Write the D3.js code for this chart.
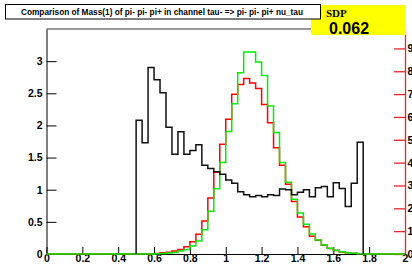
<!DOCTYPE html>
<html lang="en">
  <head>
    <meta charset="utf-8">
    <title>Mass(1) of pi- pi- pi+</title>
    <script src="https://d3js.org/d3.v7.min.js"></script>
    <style type="text/css">
      html, body {
        margin: 0; padding: 0;
        background: #fff;
      }
      svg { display: block; }
      text { font-family: "Liberation Sans", Arial, Helvetica, sans-serif; font-weight: bold; }
    </style>
  </head>
  <body>
    <svg width="412" height="269"></svg>

    <script type="text/javascript">

      // binning: 60 bins from 0 to 2
      var binLo = 0, binHi = 2, nBins = 60;

      // black (ratio, left axis), starts at bin 15 (m = 0.5)
      var blackStart = 15;
      var blackVals = [2.08, 1.73, 2.90, 2.71, 2.51, 1.97, 1.55, 1.90, 1.55, 1.61,
                       1.70, 1.38, 1.33, 1.28, 1.24, 1.15, 1.10, 0.97, 0.92, 0.89,
                       0.91, 0.89, 0.92, 0.91, 1.01, 1.00, 0.92, 0.96, 1.00, 0.89,
                       1.03, 1.05, 0.89, 1.11, 1.02, 0.74, 1.10, 1.74];

      // red and green (right axis), all 60 bins
      var redVals = [0,0,0,0,0,0,0,0,0,0, 0,0,0,0,0,0,0,0,0.02,0.05,
                     0.08, 0.13, 0.20, 0.32, 0.54, 0.86, 1.45, 2.45, 3.58, 4.81,
                     5.90, 6.99, 7.42, 7.68, 7.49, 7.25, 6.55, 5.75, 4.65, 3.88,
                     3.05, 2.30, 1.62, 1.19, 0.78, 0.60, 0.38, 0.24, 0.15, 0.09,
                     0.05, 0.03, 0.01, 0,0,0,0,0,0,0];
      var greenVals = [0,0,0,0,0,0,0,0,0,0, 0,0,0,0,0,0,0,0,0.01,0.02,
                       0.04, 0.07, 0.13, 0.20, 0.35, 0.57, 1.06, 1.87, 2.86, 4.01,
                       5.36, 6.58, 7.93, 8.84, 8.84, 8.40, 7.81, 6.48, 5.32, 4.01,
                       3.14, 2.40, 1.79, 1.30, 0.88, 0.61, 0.39, 0.25, 0.16, 0.10,
                       0.06, 0.03, 0.01, 0,0,0,0,0,0,0];

      // tick labels
      var xTicks = [0, 0.2, 0.4, 0.6, 0.8, 1, 1.2, 1.4, 1.6, 1.8, 2];
      var yLeftTicks = [0, 0.5, 1, 1.5, 2, 2.5, 3];
      var yRightTicks = [0, 1, 2, 3, 4, 5, 6, 7, 8, 9];

      var titleText = "Comparison of Mass(1) of pi- pi- pi+ in channel tau- => pi- pi- pi+ nu_tau";
      var sdpLabel = "SDP";
      var sdpValue = "0.062";

      var x = d3.scaleLinear().domain([binLo, binHi]).range([46.5, 405]);
      var yL = d3.scaleLinear().domain([0, 3.5]).range([254, 29]);
      var yR = d3.scaleLinear().domain([0, 9.85]).range([254, 29]);
      var bw = (binHi - binLo) / nBins;

      var svg = d3.select("svg");

      // frame
      svg.append("line")
         .attr("x1", x(0)).attr("x2", x(2))
         .attr("y1", yL(3.5)).attr("y2", yL(3.5))
         .attr("stroke", "#333").attr("stroke-width", 1);

      // left axis, ticks pointing inwards
      var gL = svg.append("g").attr("transform", "translate(" + x(0) + ",0)");
      gL.call(d3.axisLeft(yL).tickValues(d3.range(0, 3.51, 0.1)).tickSize(-5).tickSizeOuter(0).tickFormat(""));
      gL.call(d3.axisLeft(yL).tickValues(yLeftTicks).tickSize(-10).tickSizeOuter(0).tickPadding(4)
                .tickFormat(function(d){ return d; }));
      gL.selectAll("text").style("font-size", "10.5px").attr("fill", "#000");
      gL.selectAll("line, path").attr("stroke", "#000");

      // bottom axis
      var gB = svg.append("g").attr("transform", "translate(0," + yL(0) + ")");
      gB.call(d3.axisBottom(x).tickValues(d3.range(0, 2.001, 0.05)).tickSize(-3.5).tickSizeOuter(0).tickFormat(""));
      gB.call(d3.axisBottom(x).tickValues(xTicks).tickSize(-7).tickSizeOuter(0).tickPadding(1)
                .tickFormat(function(d){ return d; }));
      gB.selectAll("text").style("font-size", "10.5px").attr("fill", "#000");
      gB.selectAll("line, path").attr("stroke", "#000");

      // right axis in red
      var gR = svg.append("g").attr("transform", "translate(" + x(2) + ",0)");
      gR.call(d3.axisRight(yR).tickValues(d3.range(0, 9.85, 0.2)).tickSize(-5.5).tickSizeOuter(0).tickFormat(""));
      gR.call(d3.axisRight(yR).tickValues(yRightTicks).tickSize(-11).tickSizeOuter(0).tickPadding(2.5)
                .tickFormat(function(d){ return d; }));
      gR.selectAll("text").style("font-size", "10.5px").attr("fill", "#000");
      gR.selectAll("line, path").attr("stroke", "#e8262b").attr("stroke-width", 1.3);

      // step lines
      function stepPoints(vals, start) {
        var pts = [[binLo + start * bw, 0]];
        vals.forEach(function(v, i){ pts.push([binLo + (start + i) * bw, v]); });
        pts.push([binLo + (start + vals.length) * bw, 0]);
        return pts;
      }

      var lineR = d3.line().curve(d3.curveStepAfter)
                    .x(function(d){ return x(d[0]); })
                    .y(function(d){ return yR(d[1]); });
      var lineL = d3.line().curve(d3.curveStepAfter)
                    .x(function(d){ return x(d[0]); })
                    .y(function(d){ return yL(d[1]); });

      svg.append("path")
         .attr("d", lineR(stepPoints(redVals, 0)))
         .attr("fill", "none").attr("stroke", "#ff0000").attr("stroke-width", 1.5);
      svg.append("path")
         .attr("d", lineR(stepPoints(greenVals, 0)))
         .attr("fill", "none").attr("stroke", "#00ee00").attr("stroke-width", 1.5);
      svg.append("path")
         .attr("d", lineL(stepPoints(blackVals, blackStart)))
         .attr("fill", "none").attr("stroke", "#111").attr("stroke-width", 1.5);

      // SDP box
      svg.append("rect")
         .attr("x", 311).attr("y", 5).attr("width", 95).attr("height", 30)
         .attr("fill", "#ffff00");
      svg.append("text")
         .attr("x", 326).attr("y", 16.5)
         .style("font-family", "'Liberation Serif', 'Times New Roman', serif")
         .style("font-size", "11px")
         .text(sdpLabel);
      svg.append("text")
         .attr("x", 329).attr("y", 33.5)
         .style("font-size", "16px")
         .text(sdpValue);

      // title box
      svg.append("rect")
         .attr("x", 5.5).attr("y", 4.5).attr("width", 315).attr("height", 14.5)
         .attr("fill", "#fff").attr("stroke", "#000").attr("stroke-width", 1);
      svg.append("text")
         .attr("x", 162).attr("y", 14.5)
         .attr("text-anchor", "middle")
         .attr("textLength", 282).attr("lengthAdjust", "spacingAndGlyphs")
         .style("font-size", "8.5px")
         .text(titleText);

    </script>
  </body>
</html>
